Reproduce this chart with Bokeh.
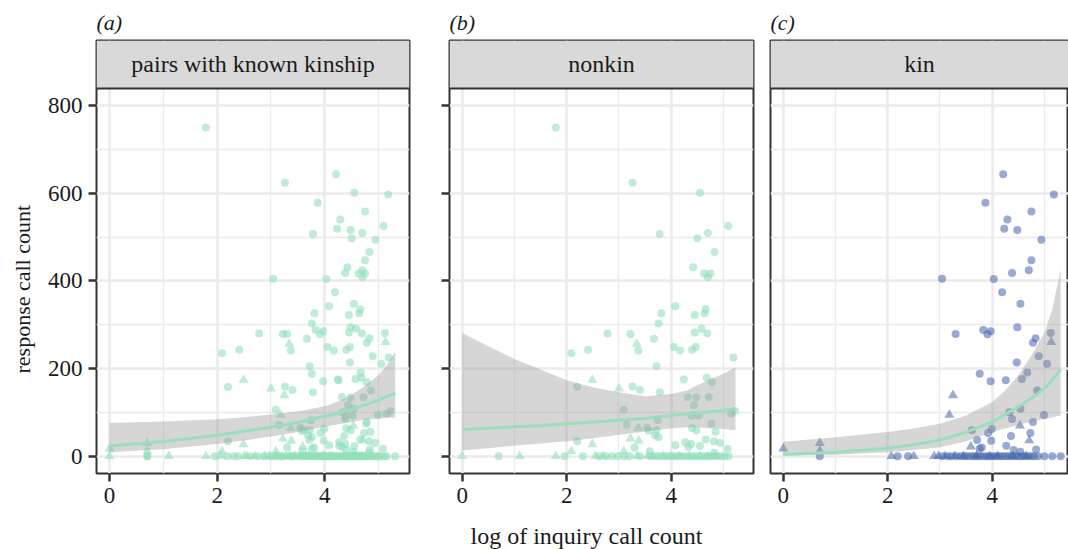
from bokeh.plotting import figure
from bokeh.layouts import row, column
from bokeh.models import Range1d, FixedTicker, BoxAnnotation, Span, Label, Title
from bokeh.embed import file_html
from bokeh.resources import INLINE

# ---------------- data ----------------
panel_titles = ["(a)", "(b)", "(c)"]
strip_labels = ["pairs with known kinship", "nonkin", "kin"]
x_ticks = [0, 2, 4]
y_ticks = [0, 200, 400, 600, 800]
x_title = "log of inquiry call count"
y_title = "response call count"

# nonkin, circles
nonkin_circ_x = [1.79, 3.26, 4.55, 5.09, 3.78, 4.50, 4.70, 4.83, 4.42, 4.63, 4.75, 4.70, 4.08, 3.81, 4.66,
                 4.64, 4.45, 3.76, 2.78, 3.22, 4.58, 4.45, 4.69, 3.67, 3.37, 2.09, 2.41, 4.05, 4.17, 4.40,
                 4.47, 5.19, 3.72, 4.24, 4.68, 4.78, 2.20, 3.26, 3.40, 3.78, 4.32, 4.48, 4.72, 4.43, 3.09,
                 5.22, 5.15, 4.39, 4.52, 3.74, 3.15, 4.77, 3.54, 3.57, 3.72, 4.40, 4.48, 4.85, 3.69, 3.76,
                 2.20, 3.30, 3.59, 4.08, 4.27, 4.33, 4.38, 4.55, 4.66, 4.82, 4.94, 5.08, 4.82,
                 0.70, 1.96, 2.31, 2.62, 2.75, 2.87, 2.98, 3.10, 3.20, 3.40, 3.60, 3.68, 3.75, 3.82, 3.90,
                 3.96, 4.04, 4.10, 4.18, 4.25, 4.32, 4.40, 4.46, 4.53, 4.60, 4.67, 4.74, 4.80, 4.88, 4.95,
                 5.02, 5.10]
nonkin_circ_y = [750, 624, 601, 525, 507, 497, 509, 466, 431, 417, 417, 408, 342, 326, 335,
                 326, 322, 303, 280, 279, 291, 282, 280, 268, 241, 235, 243, 249, 241, 243,
                 249, 225, 205, 175, 179, 169, 158, 159, 151, 146, 135, 134, 135, 116, 106,
                 103, 97, 93, 93, 82, 72, 74, 65, 58, 59, 64, 59, 56, 48, 43,
                 34, 20, 11, 25, 32, 21, 28, 23, 38, 34, 30, 17, 8,
                 0, 0, 0, 0, 0, 0, 0, 0, 0, 0, 0, 0, 0, 0, 0,
                 0, 0, 0, 0, 0, 0, 0, 0, 0, 0, 0, 0, 0, 0, 0,
                 0, 0]
# nonkin, triangles
nonkin_tri_x = [3.34, 2.49, 3.00, 3.37, 3.22, 3.38, 2.49, 3.09, 2.09,
                0.00, 1.10, 1.79, 2.55, 2.70, 3.35, 3.55, 3.65, 3.85, 4.00, 4.15, 4.35, 4.55, 4.70, 4.85]
nonkin_tri_y = [256, 174, 154, 64, 40, 35, 27, 11, 11,
                0, 0, 0, 0, 0, 0, 0, 0, 0, 0, 0, 0, 0, 0, 0]

# kin, circles
kin_circ_x = [4.21, 5.18, 3.87, 4.29, 4.75, 4.23, 4.48, 4.94, 4.75, 4.38, 4.70, 3.04, 4.03, 4.19, 4.54,
              4.48, 3.83, 3.97, 3.91, 3.30, 4.83, 4.78, 5.12, 4.89, 5.05, 4.47, 4.67, 3.76, 4.26, 4.57,
              3.97, 4.86, 4.33, 4.54, 4.99, 4.38, 4.78, 3.61, 3.99, 3.92, 3.71, 3.98, 4.36, 4.73, 3.80,
              3.76, 4.27, 4.41, 4.84, 4.54,
              0.70, 2.19, 2.39, 3.04, 3.15, 3.22, 3.32, 3.40, 3.47, 3.53, 3.60, 3.66, 3.72, 3.78, 3.84,
              3.90, 3.96, 4.02, 4.08, 4.14, 4.20, 4.26, 4.32, 4.38, 4.44, 4.50, 4.56, 4.62, 4.68, 4.74,
              4.80, 4.88, 5.00, 5.15, 5.31]
kin_circ_y = [643, 597, 578, 540, 558, 519, 516, 494, 447, 418, 424, 405, 404, 374, 348,
              294, 288, 285, 278, 279, 269, 259, 281, 228, 211, 214, 191, 188, 173, 176,
              171, 150, 100, 108, 94, 85, 78, 59, 62, 53, 37, 35, 46, 53, 20,
              17, 24, 14, 15, 10,
              0, 0, 0, 0, 0, 0, 0, 0, 0, 0, 0, 0, 0, 0, 0,
              0, 0, 0, 0, 0, 0, 0, 0, 0, 0, 0, 0, 0, 0, 0,
              0, 0, 0, 0, 0]
# kin, triangles
kin_tri_x = [5.13, 3.25, 3.18, 4.53, 4.71, 3.59, 0.70, 0.70, 0.00,
             2.07, 2.50, 2.89, 2.97, 3.10, 3.28, 3.45, 3.70, 3.95, 4.10, 4.40, 4.65]
kin_tri_y = [260, 139, 94, 70, 36, 22, 30, 12, 17,
             0, 0, 0, 0, 0, 0, 0, 0, 0, 0, 0, 0]

# fitted curves with confidence ribbons
fit_all_x = [0, 1, 2, 2.5, 3, 3.5, 4, 4.25, 4.5, 4.75, 5, 5.15, 5.31]
fit_all_y = [23, 33.5, 48, 57, 66, 77, 91, 98, 107, 117, 128, 136, 144]
fit_all_lo = [9, 16, 28, 36, 45, 55, 67, 73, 78, 83, 86, 87.5, 88]
fit_all_hi = [76, 79, 84, 89, 95, 102, 114, 125, 140, 160, 185, 207, 238]

fit_nonkin_x = [0, 0.5, 1, 1.5, 2, 2.5, 3, 3.5, 4, 4.3, 4.5, 5, 5.23]
fit_nonkin_y = [61, 64, 67, 70, 74, 78, 82, 86, 93, 96, 99, 104, 108]
fit_nonkin_lo = [13, 18, 24, 29, 34, 41, 49, 56, 64, 66, 66, 62, 59]
fit_nonkin_hi = [281, 251, 222, 198, 173, 157, 146, 137, 142, 150, 162, 188, 203]

fit_kin_x = [0, 1, 2, 2.5, 3, 3.5, 4, 4.25, 4.5, 4.75, 5, 5.15, 5.31]
fit_kin_y = [4, 9, 18, 26, 37, 55, 78, 95, 113, 132, 154, 174, 197]
fit_kin_lo = [1.5, 3, 9, 14, 20.5, 34, 55, 63, 71, 79, 85, 89, 93]
fit_kin_hi = [33, 43, 55, 63, 74, 93, 123, 150, 184, 230, 282, 335, 426]

# ---------------- styling ----------------
FONT = "Liberation Serif"
GREEN = "#92DFBA"
LINE_GREEN = "#9ADFBD"
BLUE = "#4566AC"
DARK = "#333333"
TXT = "#1A1A1A"
GRID = "#EBEBEB"

X_START = -0.243
Y_START, Y_END = -39.5, 948.4
STRIP_BOTTOM = 838.9
H = 515


def make_panel(width, border_left, border_right, x_end, title, strip, yaxis_mode, groups, fit, alpha):
    p = figure(width=width, height=H, x_range=Range1d(X_START, x_end),
               y_range=Range1d(Y_START, Y_END), output_backend="svg",
               toolbar_location=None, min_border_left=border_left, min_border_right=border_right,
               min_border_top=40, min_border_bottom=42, title=title)
    p.background_fill_color = "white"
    p.border_fill_color = "white"
    p.outline_line_color = DARK
    p.outline_line_width = 2
    p.title.text_font = FONT
    p.title.text_font_size = "22px"
    p.title.text_font_style = "italic"
    p.title.text_color = TXT
    p.title.align = "left"
    p.title.standoff = 12

    # grids
    p.xgrid.ticker = FixedTicker(ticks=x_ticks, minor_ticks=[1, 3, 5])
    p.ygrid.ticker = FixedTicker(ticks=y_ticks, minor_ticks=[100, 300, 500, 700])
    for g in (p.xgrid, p.ygrid):
        g.grid_line_color = GRID
        g.grid_line_width = 2.6
        g.minor_grid_line_color = GRID
        g.minor_grid_line_width = 1.3

    # x axis
    xa = p.xaxis[0]
    xa.ticker = FixedTicker(ticks=x_ticks)
    xa.axis_line_color = None
    xa.major_tick_out = 8
    xa.major_tick_in = 0
    xa.major_tick_line_color = DARK
    xa.major_tick_line_width = 2.5
    xa.minor_tick_line_color = None
    xa.major_label_text_font = FONT
    xa.major_label_text_font_size = "23px"
    xa.major_label_text_color = TXT
    xa.major_label_standoff = 6

    ya = p.yaxis[0]
    if yaxis_mode == "none":
        ya.visible = False
    else:
        ya.ticker = FixedTicker(ticks=y_ticks)
        ya.axis_line_color = None
        ya.major_tick_out = 8
        ya.major_tick_in = 0
        ya.major_tick_line_color = DARK
        ya.major_tick_line_width = 2.5
        ya.minor_tick_line_color = None
        ya.major_label_text_font = FONT
        ya.major_label_text_color = TXT
        if yaxis_mode == "labels":
            ya.major_label_text_font_size = "23px"
            ya.major_label_standoff = 6
            # y title, centred on the data panel (below the strip), as in the original
            p.add_layout(Title(text=y_title, align="left", offset=100, vertical_align="top",
                               standoff=16, text_font=FONT, text_font_size="22px",
                               text_font_style="normal", text_color=TXT), "left")
        else:
            ya.major_label_text_font_size = "1px"
            ya.major_label_text_alpha = 0
            ya.major_label_standoff = 0

    # points
    for (cx, cy, tx, ty, col) in groups:
        p.scatter(cx, cy, marker="circle", size=8, fill_color=col, fill_alpha=alpha, line_color=None)
        p.scatter(tx, ty, marker="triangle", size=10, fill_color=col, fill_alpha=alpha, line_color=None)

    fx, fy, flo, fhi = fit
    p.varea(x=fx, y1=flo, y2=fhi, fill_color="#999999", fill_alpha=0.4)
    p.line(fx, fy, line_color=LINE_GREEN, line_width=3)

    # facet strip
    p.add_layout(BoxAnnotation(bottom=STRIP_BOTTOM, fill_color="#D9D9D9", fill_alpha=1.0,
                               line_color=None))
    p.add_layout(Span(location=STRIP_BOTTOM, dimension="width", line_color=DARK, line_width=2))
    p.add_layout(Label(x=(X_START + x_end) / 2, y=(STRIP_BOTTOM + Y_END) / 2, text=strip,
                       text_align="center", text_baseline="middle", text_font=FONT,
                       text_font_size="24px", text_color=TXT))
    return p


all_circ_x = nonkin_circ_x + kin_circ_x
all_circ_y = nonkin_circ_y + kin_circ_y
all_tri_x = nonkin_tri_x + kin_tri_x
all_tri_y = nonkin_tri_y + kin_tri_y

pa = make_panel(411, 96, 2, 5.575, panel_titles[0], strip_labels[0], "labels",
                [(all_circ_x, all_circ_y, all_tri_x, all_tri_y, GREEN)],
                (fit_all_x, fit_all_y, fit_all_lo, fit_all_hi), 0.6)
pb = make_panel(344, 38, 2, 5.575, panel_titles[1], strip_labels[1], "ticks",
                [(nonkin_circ_x, nonkin_circ_y, nonkin_tri_x, nonkin_tri_y, GREEN)],
                (fit_nonkin_x, fit_nonkin_y, fit_nonkin_lo, fit_nonkin_hi), 0.6)
pc = make_panel(313, 15, 0, 5.46, panel_titles[2], strip_labels[2], "none",
                [(kin_circ_x, kin_circ_y, kin_tri_x, kin_tri_y, BLUE)],
                (fit_kin_x, fit_kin_y, fit_kin_lo, fit_kin_hi), 0.55)

# shared x axis title
xl = figure(width=1068, height=34, x_range=Range1d(0, 1068), y_range=Range1d(0, 34),
            output_backend="svg", toolbar_location=None, min_border=0)
xl.axis.visible = False
xl.grid.visible = False
xl.outline_line_color = None
xl.background_fill_color = "white"
xl.border_fill_color = "white"
xl.add_layout(Label(x=586, y=14, text=x_title, text_align="center", text_baseline="middle",
                    text_font=FONT, text_font_size="24px", text_color=TXT))

layout = column(row(pa, pb, pc), xl)
open("out.html", "w").write(file_html(layout, INLINE))
